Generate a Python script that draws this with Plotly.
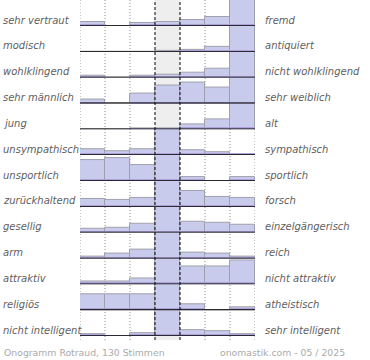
import plotly.graph_objects as go
from plotly.subplots import make_subplots

# ---- data -------------------------------------------------------------
left_labels = ["sehr vertraut", "modisch", "wohlklingend", "sehr männlich", "jung",
               "unsympathisch", "unsportlich", "zurückhaltend", "gesellig", "arm",
               "attraktiv", "religiös", "nicht intelligent"]
right_labels = ["fremd", "antiquiert", "nicht wohlklingend", "sehr weiblich", "alt",
                "sympathisch", "sportlich", "forsch", "einzelgängerisch", "reich",
                "nicht attraktiv", "atheistisch", "sehr intelligent"]
scale_points = [1, 2, 3, 4, 5, 6, 7]

# bar heights per row (row full height = 25 units; larger values are clipped)
v_vertraut = [3.3, 0, 2.3, 3.3, 5.7, 8.3, 25]
v_modisch = [0, 0, 0, 0.4, 2.0, 4.3, 25]
v_wohlklingend = [2.0, 0, 2.0, 3.0, 4.3, 8.7, 25]
v_maennlich = [3.7, 0, 9.3, 17, 20.3, 15.7, 25]
v_jung = [0, 0, 0.5, 0.5, 4.7, 10, 25]
v_unsympathisch = [5.7, 4.0, 5.3, 40, 5.0, 3.0, 1.0]
v_unsportlich = [20, 21.7, 15.3, 40, 3.7, 0, 3.7]
v_zurueckhaltend = [8.0, 6.3, 8.7, 40, 15.3, 9.7, 8.3]
v_gesellig = [3.3, 5.0, 9.0, 40, 10.7, 9.7, 8.0]
v_arm = [2.0, 4.3, 8.7, 40, 5.3, 4.7, 1.7]
v_attraktiv = [2.3, 2.3, 5.7, 40, 17.7, 17.7, 22.7]
v_religioes = [15.7, 15.7, 15.7, 40, 5.3, 0, 2.7]
v_intelligent = [1.7, 0.3, 2.7, 40, 6.0, 5.0, 2.0]

rows_values = [v_vertraut, v_modisch, v_wohlklingend, v_maennlich, v_jung,
               v_unsympathisch, v_unsportlich, v_zurueckhaltend, v_gesellig, v_arm,
               v_attraktiv, v_religioes, v_intelligent]

footer_left = "Onogramm Rotraud, 130 Stimmen"
footer_right = "onomastik.com - 05 / 2025"

# ---- style ------------------------------------------------------------
ROW_MAX = 25
BAND = 2.0
BAR_COLOR = "#c8cbec"
BAND_COLOR = "#ada2d8"
EDGE_COLOR = "#a0a0ac"
LABEL_COLOR = "#606060"
FOOT_COLOR = "#aaaaaa"
FONT = "DejaVu Sans"

N = len(rows_values)
fig = make_subplots(rows=N, cols=1, shared_xaxes=True, vertical_spacing=0)

for i, vals in enumerate(rows_values):
    r = i + 1
    fig.add_trace(go.Bar(x=scale_points, y=vals, width=1,
                         marker=dict(color=BAR_COLOR, line=dict(color=EDGE_COLOR, width=1)),
                         showlegend=False, hoverinfo="skip"), row=r, col=1)
    fig.add_trace(go.Bar(x=scale_points, y=[min(v, BAND) for v in vals], width=1,
                         marker=dict(color=BAND_COLOR, line=dict(width=0)),
                         showlegend=False, hoverinfo="skip"), row=r, col=1)
    yref = "y" if r == 1 else f"y{r}"
    # baseline
    fig.add_shape(type="line", xref="x", yref=yref, x0=0.5, x1=7.5, y0=0, y1=0,
                  line=dict(color="black", width=1.6), layer="above")
    fig.add_annotation(xref="paper", yref=yref, x=-0.452, y=5.6, xanchor="left",
                       yanchor="middle", text=left_labels[i], showarrow=False,
                       font=dict(family=FONT, size=10, color=LABEL_COLOR, style="italic"))
    fig.add_annotation(xref="paper", yref=yref, x=1.045, y=5.6, xanchor="left",
                       yanchor="middle", text=right_labels[i], showarrow=False,
                       font=dict(family=FONT, size=10, color=LABEL_COLOR, style="italic"))

fig.update_yaxes(range=[0, ROW_MAX], visible=False, fixedrange=True)
fig.update_xaxes(range=[0.5, 7.5], visible=False, fixedrange=True)

# centre column shading
fig.add_shape(type="rect", xref="x", yref="paper", x0=3.5, x1=4.5, y0=-0.012, y1=1,
              fillcolor="#eeeeee", line=dict(width=0), layer="below")
# dotted column separators
for xv in [0.5, 1.5, 2.5, 5.5, 6.5, 7.5]:
    fig.add_shape(type="line", xref="x", yref="paper", x0=xv, x1=xv, y0=-0.012, y1=1,
                  line=dict(color="#8a8a8a", width=1, dash="1px,2px"), layer="below")
# dashed centre lines
for xv in [3.5, 4.5]:
    fig.add_shape(type="line", xref="x", yref="paper", x0=xv, x1=xv, y0=-0.012, y1=1,
                  line=dict(color="black", width=1, dash="3px,2px"), layer="above")

fig.add_annotation(xref="paper", yref="paper", x=-0.446, y=-0.048, xanchor="left",
                   yanchor="middle", text=footer_left, showarrow=False,
                   font=dict(family=FONT, size=9.3, color=FOOT_COLOR))
fig.add_annotation(xref="paper", yref="paper", x=1.526, y=-0.048, xanchor="right",
                   yanchor="middle", text=footer_right, showarrow=False,
                   font=dict(family=FONT, size=9.3, color=FOOT_COLOR))

fig.update_layout(width=370, height=360, barmode="overlay",
                  margin=dict(l=80, r=115, t=0, b=24),
                  plot_bgcolor="white", paper_bgcolor="white", bargap=0)

fig.write_html("out.html", config={"displayModeBar": False},
               post_script="document.body.style.margin='0';")
